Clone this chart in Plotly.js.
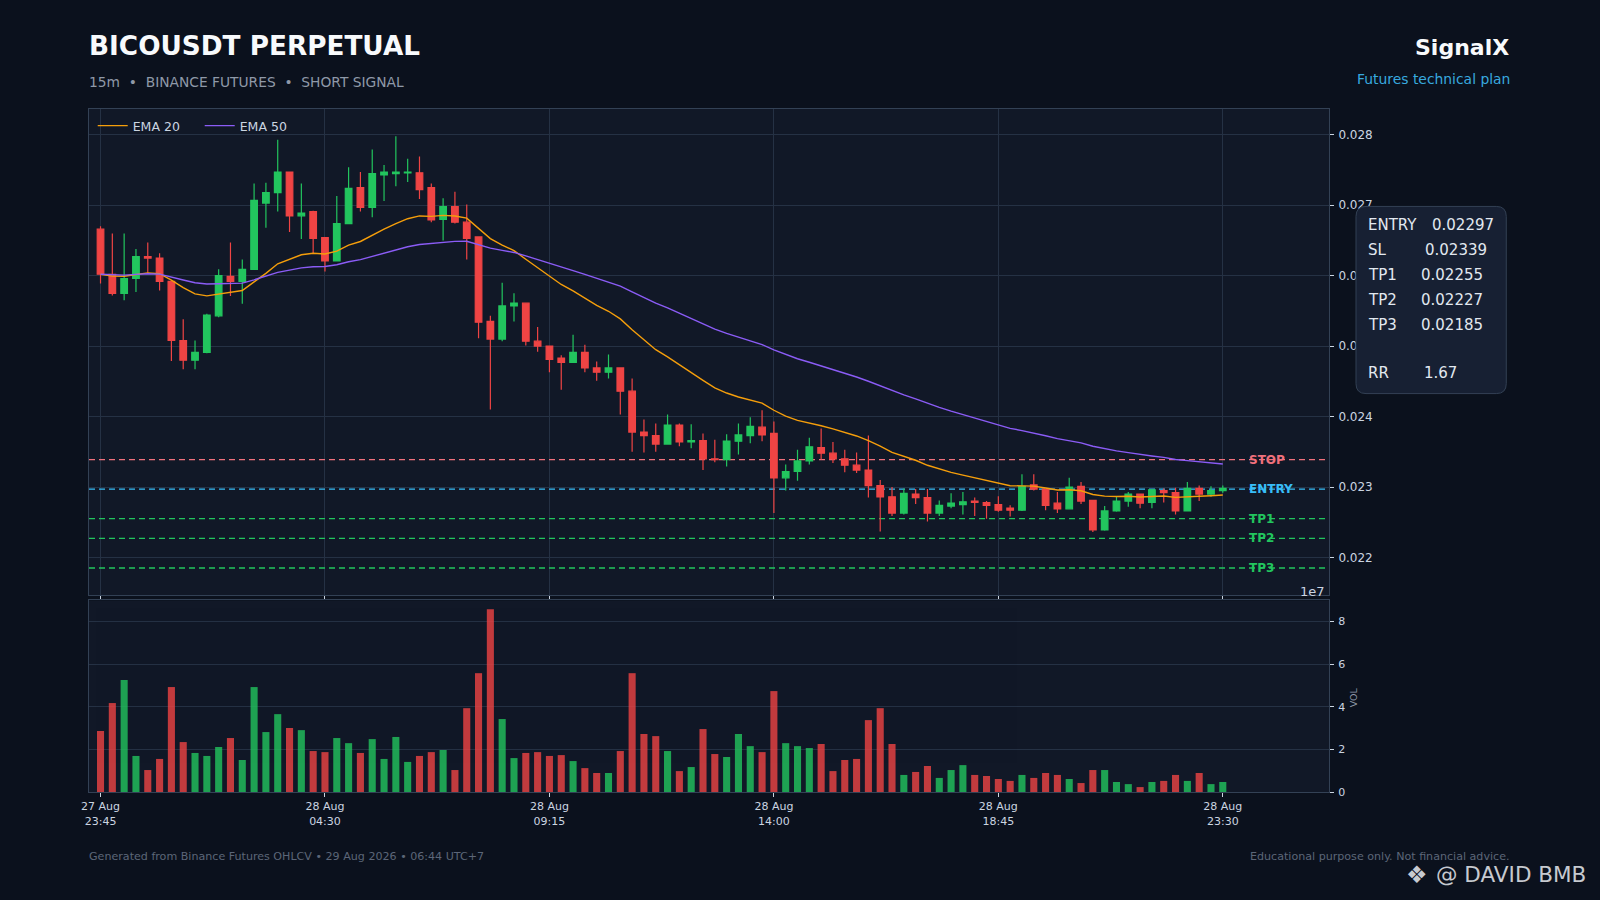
<!DOCTYPE html>
<html>
<head>
<meta charset="utf-8">
<script src="https://cdn.plot.ly/plotly-3.0.1.min.js"></script>
<style>
html,body{margin:0;padding:0;background:#0b111d;}
#chart{width:1600px;height:900px;}
</style>
</head>
<body>
<div id="chart"></div>
<script>
// ---- data (15m candles, 27 Aug 23:45 -> 28 Aug 23:30) ----
const opens  = [0.02666,0.02602,0.02575,0.02596,0.02627,0.02625,0.02592,0.02508,0.02480,0.02491,
                0.02543,0.02599,0.02592,0.02609,0.02703,0.02718,0.02747,0.02685,0.02691,0.02654,
                0.02621,0.02674,0.02725,0.02697,0.02743,0.02745,0.02746,0.02746,0.02725,0.02680,
                0.02698,0.02676,0.02655,0.02535,0.02510,0.02557,0.02561,0.02507,0.02500,0.02483,
                0.02477,0.02491,0.02469,0.02463,0.02469,0.02436,0.02378,0.02373,0.02361,0.02388,
                0.02364,0.02366,0.02340,0.02339,0.02365,0.02373,0.02385,0.02376,0.02313,0.02322,
                0.02337,0.02356,0.02348,0.02340,0.02331,0.02324,0.02302,0.02286,0.02263,0.02290,
                0.02285,0.02263,0.02273,0.02275,0.02280,0.02278,0.02275,0.02270,0.02267,0.02303,
                0.02297,0.02277,0.02269,0.02301,0.02281,0.02239,0.02266,0.02280,0.02290,0.02278,
                0.02295,0.02292,0.02266,0.02298,0.02290,0.02295];
const highs  = [0.02670,0.02660,0.02660,0.02638,0.02647,0.02632,0.02593,0.02538,0.02508,0.02546,
                0.02609,0.02647,0.02623,0.02731,0.02732,0.02793,0.02748,0.02731,0.02692,0.02655,
                0.02713,0.02754,0.02747,0.02779,0.02757,0.02798,0.02766,0.02769,0.02731,0.02710,
                0.02719,0.02701,0.02656,0.02543,0.02590,0.02575,0.02562,0.02527,0.02501,0.02487,
                0.02516,0.02502,0.02478,0.02488,0.02470,0.02454,0.02396,0.02390,0.02403,0.02390,
                0.02389,0.02376,0.02367,0.02375,0.02390,0.02399,0.02409,0.02393,0.02332,0.02353,
                0.02370,0.02383,0.02364,0.02353,0.02349,0.02373,0.02310,0.02300,0.02298,0.02297,
                0.02297,0.02281,0.02291,0.02293,0.02285,0.02280,0.02287,0.02274,0.02318,0.02318,
                0.02298,0.02293,0.02313,0.02307,0.02281,0.02273,0.02286,0.02293,0.02290,0.02296,
                0.02298,0.02299,0.02307,0.02302,0.02301,0.02302];
const lows   = [0.02589,0.02572,0.02565,0.02577,0.02604,0.02579,0.02479,0.02467,0.02467,0.02490,
                0.02541,0.02571,0.02560,0.02608,0.02668,0.02691,0.02662,0.02652,0.02632,0.02606,
                0.02620,0.02673,0.02691,0.02683,0.02706,0.02727,0.02733,0.02709,0.02676,0.02650,
                0.02674,0.02623,0.02511,0.02410,0.02507,0.02535,0.02501,0.02492,0.02463,0.02438,
                0.02476,0.02463,0.02451,0.02454,0.02403,0.02350,0.02349,0.02350,0.02360,0.02358,
                0.02355,0.02324,0.02335,0.02329,0.02346,0.02362,0.02365,0.02263,0.02295,0.02309,
                0.02332,0.02339,0.02334,0.02321,0.02320,0.02285,0.02237,0.02259,0.02261,0.02276,
                0.02251,0.02259,0.02270,0.02261,0.02259,0.02255,0.02265,0.02258,0.02266,0.02295,
                0.02267,0.02263,0.02268,0.02276,0.02236,0.02238,0.02265,0.02272,0.02270,0.02270,
                0.02278,0.02261,0.02266,0.02280,0.02286,0.02292];
const closes = [0.02602,0.02575,0.02596,0.02627,0.02625,0.02592,0.02508,0.02480,0.02491,0.02544,
                0.02600,0.02592,0.02609,0.02707,0.02718,0.02747,0.02685,0.02689,0.02653,0.02621,
                0.02674,0.02724,0.02697,0.02745,0.02747,0.02747,0.02747,0.02722,0.02679,0.02698,
                0.02676,0.02653,0.02534,0.02510,0.02557,0.02561,0.02507,0.02500,0.02481,0.02477,
                0.02491,0.02469,0.02463,0.02469,0.02436,0.02378,0.02373,0.02361,0.02388,0.02364,
                0.02366,0.02340,0.02339,0.02365,0.02374,0.02386,0.02374,0.02313,0.02322,0.02337,
                0.02357,0.02348,0.02340,0.02331,0.02324,0.02302,0.02286,0.02263,0.02291,0.02285,
                0.02263,0.02274,0.02277,0.02279,0.02278,0.02274,0.02267,0.02267,0.02301,0.02297,
                0.02274,0.02269,0.02300,0.02280,0.02239,0.02266,0.02280,0.02290,0.02277,0.02296,
                0.02292,0.02266,0.02298,0.02290,0.02295,0.02298];
// volume in units of 1e7
const volumesE7 = [2.86,4.17,5.25,1.69,1.03,1.55,4.92,2.34,1.83,1.69,
                   2.11,2.53,1.50,4.92,2.81,3.65,3.00,2.90,1.92,1.87,
                   2.53,2.29,1.83,2.48,1.55,2.58,1.41,1.69,1.87,1.97,
                   1.03,3.93,5.57,8.57,3.42,1.59,1.83,1.87,1.69,1.73,
                   1.45,1.12,0.89,0.89,1.92,5.57,2.72,2.62,1.92,0.98,
                   1.17,2.95,1.78,1.64,2.72,2.15,1.87,4.73,2.29,2.15,
                   2.06,2.25,0.98,1.50,1.55,3.37,3.93,2.25,0.80,0.94,
                   1.22,0.66,1.03,1.26,0.80,0.75,0.61,0.52,0.80,0.66,
                   0.89,0.80,0.61,0.42,1.03,1.03,0.47,0.37,0.23,0.47,
                   0.52,0.80,0.52,0.89,0.37,0.47];
const tickIndex  = [0,19,38,57,76,95];
const tickLabels = ['27 Aug<br>23:45','28 Aug<br>04:30','28 Aug<br>09:15','28 Aug<br>14:00','28 Aug<br>18:45','28 Aug<br>23:30'];
const priceTicks = [0.022,0.023,0.024,0.025,0.026,0.027,0.028];
const volTicks   = [0,2,4,6,8];
const levelNames  = ['STOP','ENTRY','TP1','TP2','TP3'];
const levelValues = [0.02339,0.02297,0.02255,0.02227,0.02185];
const planLabels  = ['ENTRY','SL','TP1','TP2','TP3','RR'];
const planValues  = ['0.02297','0.02339','0.02255','0.02227','0.02185','1.67'];

// ---- styling ----
const GREEN = '#22c55e', RED = '#ef4444';
const levelColors = ['#f0707c','#38bdf8','#22c55e','#22c55e','#22c55e'];
const GRID = '#253144', FRAME = '#334155', TXT = '#cbd5e1';
const FONT = 'DejaVu Sans, Verdana, sans-serif';

const xIdx = closes.map((_, i) => i);
function ema(values, span) {
  const a = 2 / (span + 1); let e = values[0];
  return values.map((v, i) => (e = i === 0 ? v : a * v + (1 - a) * e));
}
const ema20 = ema(closes, 20);
const ema50 = ema(closes, 50);
const volColors = closes.map((c, i) => c >= opens[i] ? GREEN : RED);

const XR = [-0.975, 103.99];
// pixel -> paper helpers (plot area: x 88.5..1328.7, y 108.5..792)
const L = 88.5, R = 1328.7, T = 108.5, B = 792;
const px = X => (X - L) / (R - L);
const py = Y => (B - Y) / (B - T);

const traces = [
  {type:'candlestick', x:xIdx, open:opens, high:highs, low:lows, close:closes,
   xaxis:'x', yaxis:'y', whiskerwidth:0, showlegend:false, hoverinfo:'skip',
   increasing:{line:{color:GREEN, width:1.2}, fillcolor:GREEN},
   decreasing:{line:{color:RED, width:1.2}, fillcolor:RED}},
  {type:'scatter', mode:'lines', x:xIdx, y:ema20, name:'EMA 20', xaxis:'x', yaxis:'y',
   line:{color:'#f59e0b', width:1.4}, hoverinfo:'skip'},
  {type:'scatter', mode:'lines', x:xIdx, y:ema50, name:'EMA 50', xaxis:'x', yaxis:'y',
   line:{color:'#8b5cf6', width:1.4}, hoverinfo:'skip'},
  {type:'bar', x:xIdx, y:volumesE7, xaxis:'x2', yaxis:'y2', width:0.6,
   marker:{color:volColors, line:{width:0}}, opacity:0.8, showlegend:false, hoverinfo:'skip'}
];

const shapes = levelValues.map((v, i) => ({
  type:'line', xref:'x', yref:'y', x0:XR[0], x1:XR[1], y0:v, y1:v, layer:'between',
  line:{color:levelColors[i], width:1.3, dash:'6px,4px'}
}));
// rounded info box
(function(){
  const x0 = px(1355.7), x1 = px(1506), yt = py(206), yb = py(393.3);
  const rx = 10/(R-L), ry = 10/(B-T);
  const path = `M ${x0+rx},${yt} L ${x1-rx},${yt} Q ${x1},${yt} ${x1},${yt-ry} L ${x1},${yb+ry} Q ${x1},${yb} ${x1-rx},${yb} L ${x0+rx},${yb} Q ${x0},${yb} ${x0},${yb+ry} L ${x0},${yt-ry} Q ${x0},${yt} ${x0+rx},${yt} Z`;
  shapes.push({type:'path', xref:'paper', yref:'paper', path:path, fillcolor:'#172033',
               line:{color:'#334155', width:1}, layer:'above'});
})();

const ann = [];
function txt(text, X, Y, size, color, xanchor, extra) {
  ann.push(Object.assign({text:text, xref:'paper', yref:'paper', x:px(X), y:py(Y),
    xanchor:xanchor||'left', yanchor:'middle', showarrow:false,
    font:{family:FONT, size:size, color:color}}, extra||{}));
}
txt('<b>BICOUSDT PERPETUAL</b>', 86.5, 45, 26.3, '#f8fafc');
txt('15m\u00a0\u00a0•\u00a0\u00a0BINANCE FUTURES\u00a0\u00a0•\u00a0\u00a0SHORT SIGNAL', 86.5, 81.5, 13.8, '#8f99a8');
txt('<b>SignalX</b>', 1511, 47, 22, '#f8fafc', 'right');
txt('Futures technical plan', 1512, 78.5, 13.9, '#38a9df', 'right');
txt('Generated from Binance Futures OHLCV • 29 Aug 2026 • 06:44 UTC+7', 86.5, 856.5, 11.1, '#5c6678');
txt('Educational purpose only. Not financial advice.', 1512, 856.5, 11.1, '#5c6678', 'right');
txt('\u2756', 1404, 875, 24, 'rgba(226,229,234,0.9)');
txt('@ DAVID BMB', 1434, 875, 21.5, 'rgba(226,229,234,0.88)');
txt('1e7', 1327, 591, 13, TXT, 'right');
txt('VOL', 1353, 697, 9.5, '#8f99a8', 'center', {textangle:-90});
// info box text
const rowsY = [224.3, 249.7, 275, 299.7, 324.3, 372.3];
const valX  = [1429.5, 1423, 1418.3, 1418.3, 1418.3, 1421.5];
planLabels.forEach((lab, i) => {
  txt(lab, 1366, rowsY[i], 15, '#e2e8f0');
  txt(planValues[i], valX[i], rowsY[i], 15, '#e2e8f0');
});
// level labels on the chart
levelNames.forEach((nm, i) => {
  ann.push({text:'<b>'+nm+'</b>', xref:'paper', yref:'y', x:px(1246.5), y:levelValues[i],
    xanchor:'left', yanchor:'middle', showarrow:false,
    font:{family:FONT, size:12, color:levelColors[i]}});
});

const layout = {
  width:1600, height:900,
  paper_bgcolor:'#0b111d', plot_bgcolor:'#111827',
  margin:{l:L, r:1600-R, t:T, b:900-B, pad:0},
  font:{family:FONT, color:TXT},
  hovermode:false, boxgap:0.2,
  showlegend:true,
  legend:{x:0.003, y:0.997, xanchor:'left', yanchor:'top', orientation:'h', entrywidth:62,
          bgcolor:'rgba(0,0,0,0)', font:{family:FONT, size:12.5, color:TXT}},
  xaxis:{domain:[0,1], anchor:'y', range:XR, tickmode:'array', tickvals:tickIndex, ticktext:tickLabels,
         showticklabels:false, ticks:'outside', ticklen:4, tickcolor:TXT,
         showgrid:true, gridcolor:GRID, zeroline:false,
         showline:true, linecolor:FRAME, mirror:true, rangeslider:{visible:false}},
  yaxis:{domain:[py(595),1], anchor:'x', side:'right', range:[0.021465,0.028366],
         tickmode:'array', tickvals:priceTicks, tickformat:'.3f',
         ticks:'outside', ticklen:4, tickcolor:TXT, tickfont:{size:12, color:TXT}, ticklabelstandoff:2,
         showgrid:true, gridcolor:GRID, zeroline:false,
         showline:true, linecolor:FRAME, mirror:true},
  xaxis2:{domain:[0,1], anchor:'y2', range:XR, tickmode:'array', tickvals:tickIndex, ticktext:tickLabels,
          ticks:'outside', ticklen:4, tickcolor:TXT, tickfont:{size:11, color:TXT},
          showgrid:false, zeroline:false, showline:true, linecolor:FRAME, mirror:true},
  yaxis2:{domain:[0,py(600.3)], anchor:'x2', side:'right', range:[0,8.98],
          tickmode:'array', tickvals:volTicks, ticks:'outside', ticklen:4, tickcolor:TXT,
          tickfont:{size:11, color:TXT}, ticklabelstandoff:2, showgrid:true, gridcolor:GRID, zeroline:false,
          showline:true, linecolor:FRAME, mirror:true},
  shapes:shapes,
  annotations:ann
};

Plotly.newPlot('chart', traces, layout, {staticPlot:true, displayModeBar:false});
</script>
</body>
</html>
